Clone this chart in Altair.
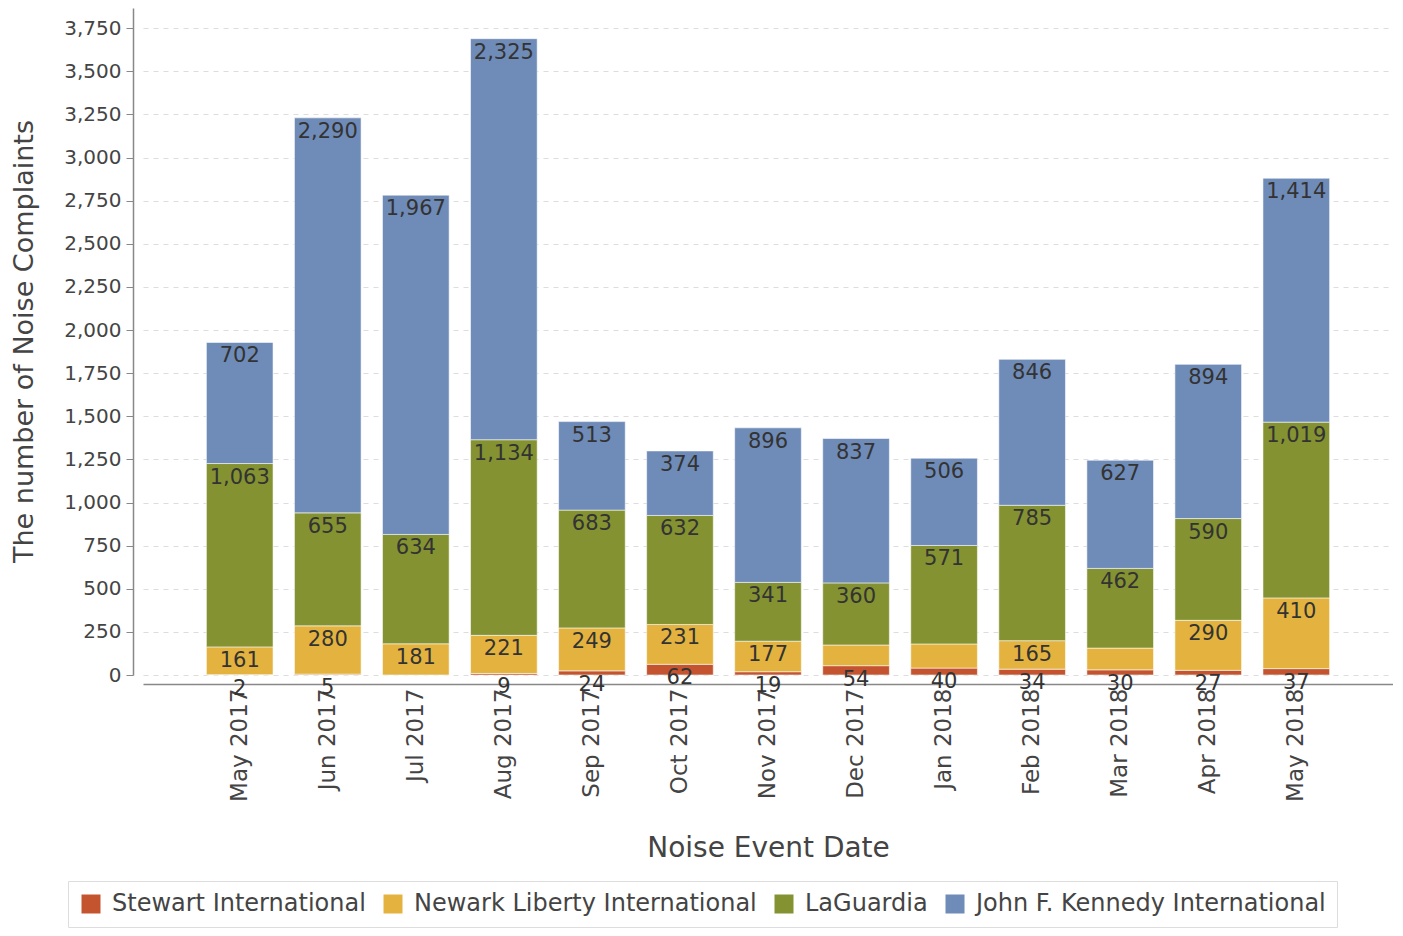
import altair as alt
import pandas as pd

months = ["May 2017", "Jun 2017", "Jul 2017", "Aug 2017", "Sep 2017", "Oct 2017",
          "Nov 2017", "Dec 2017", "Jan 2018", "Feb 2018", "Mar 2018", "Apr 2018", "May 2018"]
airports = ["Stewart International", "Newark Liberty International", "LaGuardia",
            "John F. Kennedy International"]
colors = ["#C4542F", "#E4B33F", "#849231", "#6F8BB8"]

stewart = [2, 5, 0, 9, 24, 62, 19, 54, 40, 34, 30, 27, 37]
newark = [161, 280, 181, 221, 249, 231, 177, 120, 140, 165, 126, 290, 410]
laguardia = [1063, 655, 634, 1134, 683, 632, 341, 360, 571, 785, 462, 590, 1019]
jfk = [702, 2290, 1967, 2325, 513, 374, 896, 837, 506, 846, 627, 894, 1414]

# labels not drawn in the reference
hidden_labels = [("Jul 2017", "Stewart International"),
                 ("Dec 2017", "Newark Liberty International"),
                 ("Jan 2018", "Newark Liberty International"),
                 ("Mar 2018", "Newark Liberty International")]

series = [stewart, newark, laguardia, jfk]
rows = []
for k, (name, vals) in enumerate(zip(airports, series)):
    for m, v in zip(months, vals):
        rows.append({"month": m, "airport": name, "value": v, "order": k,
                     "show": (m, name) not in hidden_labels})
df = pd.DataFrame(rows)

FONT = "DejaVu Sans"

x = alt.X("month:N", sort=months,
          scale=alt.Scale(paddingInner=0.243, paddingOuter=0.72),
          axis=alt.Axis(title="Noise Event Date", labelAngle=270, labelFontSize=23,
                        labelColor="#444", labelPadding=4, ticks=False, offset=9,
                        domainColor="#888", domainWidth=1.5,
                        titleFontSize=28, titleColor="#444", titleFontWeight="normal",
                        titleBaseline="top", titleY=150))

y_scale = alt.Scale(domain=[0, 3867], nice=False)

bars = alt.Chart(df).mark_bar(stroke="#ffffff", strokeOpacity=0.55, strokeWidth=1).encode(
    x=x,
    y=alt.Y("value:Q", stack="zero", scale=y_scale,
            axis=alt.Axis(title="The number of Noise Complaints",
                          values=list(range(0, 3751, 250)), format=",d",
                          labelFontSize=20, labelColor="#444", labelPadding=5,
                          tickSize=7, tickColor="#888", offset=10,
                          domainColor="#888", domainWidth=1.5,
                          grid=True, gridColor="#dddddd", gridDash=[5, 5], gridWidth=1,
                          titleFontSize=27, titleColor="#444", titleFontWeight="normal",
                          titleAngle=270, titleBaseline="bottom", titleAlign="center",
                          titleX=-95, titleY=333)),
    color=alt.Color("airport:N", sort=airports,
                    scale=alt.Scale(domain=airports, range=colors),
                    legend=alt.Legend(title=None, orient="none", direction="horizontal",
                                      columns=4, legendX=-75, legendY=873,
                                      symbolType="square", symbolSize=361,
                                      symbolStrokeWidth=0, labelFontSize=24,
                                      labelColor="#444", labelFont=FONT,
                                      labelOffset=9, columnPadding=15,
                                      padding=11, strokeColor="#dddddd",
                                      labelLimit=500)),
    order=alt.Order("order:Q", sort="ascending"),
)

labels = alt.Chart(df).transform_calculate(
    label="datum.show ? format(datum.value, ',') : ''"
).mark_text(baseline="top", dy=3, fontSize=21, font=FONT, color="#333").encode(
    x=alt.X("month:N", sort=months),
    y=alt.Y("value:Q", stack="zero", scale=y_scale),
    detail="airport:N",
    order=alt.Order("order:Q", sort="ascending"),
    text="label:N",
)

chart = alt.layer(bars, labels).properties(
    width=1250, height=667,
    autosize=alt.AutoSizeParams(type="none"),
    padding={"left": 135, "top": 0, "right": 0, "bottom": 253},
).configure(font=FONT).configure_view(stroke=None)

chart.save("out.html", embed_options={"renderer": "svg", "actions": False})
